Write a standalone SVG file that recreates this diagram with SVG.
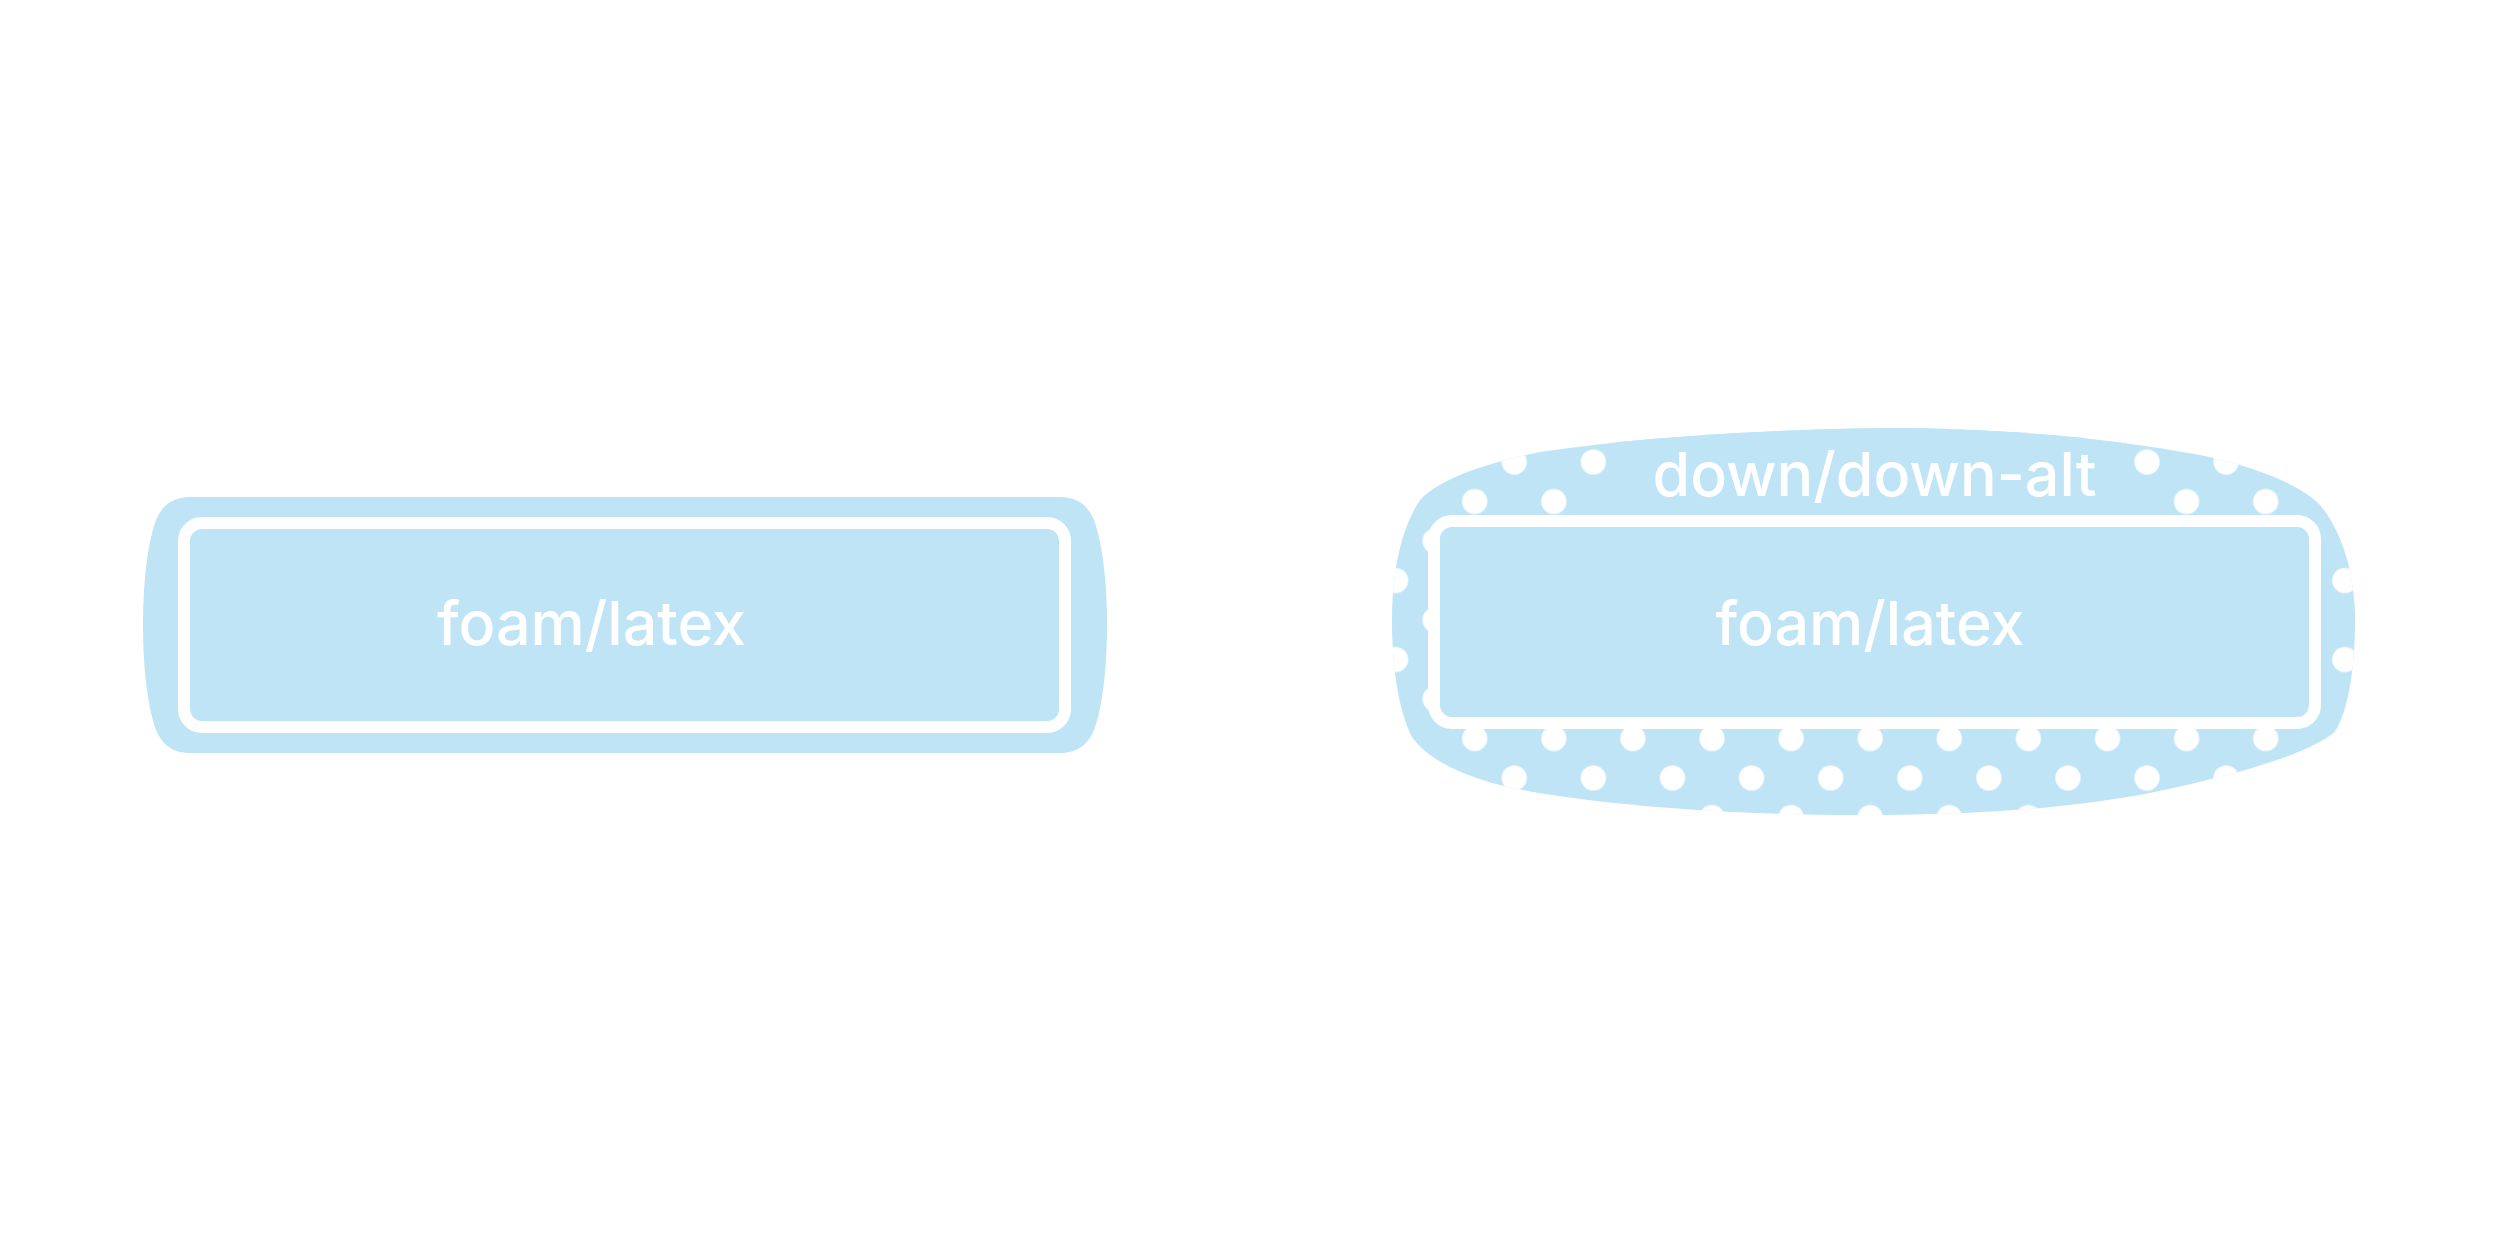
<svg xmlns="http://www.w3.org/2000/svg" xmlns:xlink="http://www.w3.org/1999/xlink" width="2500" height="1250" viewBox="0 0 2500 1250">
  <style>
    .fill { fill: #BEE4F6; }
    .inner { fill: #BEE4F6; stroke: #FFFFFF; stroke-width: 12; }
    .label { font-family: Inter, "Open Sans", "Liberation Sans", sans-serif; font-size: 61px; font-weight: 500; fill: #FFFFFF; }
  </style>
  <defs>
    <pattern id="dots" patternUnits="userSpaceOnUse" x="1395.6" y="422.5" width="79.1" height="79">
      <circle cx="0" cy="0" r="12.6" fill="#FFFFFF"/>
      <circle cx="79.1" cy="0" r="12.6" fill="#FFFFFF"/>
      <circle cx="0" cy="79" r="12.6" fill="#FFFFFF"/>
      <circle cx="79.1" cy="79" r="12.6" fill="#FFFFFF"/>
      <circle cx="39.55" cy="39.5" r="12.6" fill="#FFFFFF"/>
    </pattern>
    <path id="blob" d="M1392,620 C1392,575 1400,530 1420,500 C1440,478 1490,462 1540,452 C1640,437 1760,430 1880,428 C2000,428 2100,437 2200,455 C2260,468 2300,485 2320,505 C2345,535 2355,580 2355,620 C2355,670 2348,710 2335,732 C2310,752 2250,772 2150,793 C2080,806 2000,814 1880,815 C1760,816 1620,808 1523,790 C1470,780 1430,762 1412,737 C1398,710 1392,665 1392,620 Z"/>
    <clipPath id="blobClip">
      <use xlink:href="#blob"/>
    </clipPath>
  </defs>
  <rect width="2500" height="1250" fill="#FFFFFF"/>

  <g id="node-foam-latex">
    <path class="fill" d="M190,497 H1060 C1078,497 1088,506 1094,520 C1103,545 1107,585 1107,625 C1107,665 1103,705 1094,730 C1088,744 1078,753 1060,753 H190 C172,753 162,744 156,730 C147,705 143,665 143,625 C143,585 147,545 156,520 C162,506 172,497 190,497 Z"/>
    <rect class="inner" x="184" y="523" width="881" height="204" rx="18" ry="18"/>
    <text class="label" x="591.5" y="645" text-anchor="middle">foam/latex</text>
  </g>

  <g id="node-down-alt">
    <use xlink:href="#blob" class="fill"/>
    <use xlink:href="#blob" fill="url(#dots)"/>
    <rect class="fill" x="1613" y="400" width="514" height="120" clip-path="url(#blobClip)"/>
    <text class="label" x="1874.5" y="496" text-anchor="middle">down/down-alt</text>
    <rect class="inner" x="1434" y="521" width="881" height="202" rx="18" ry="18"/>
    <text class="label" x="1870" y="645" text-anchor="middle">foam/latex</text>
  </g>

  <g id="connectors"/>
</svg>
